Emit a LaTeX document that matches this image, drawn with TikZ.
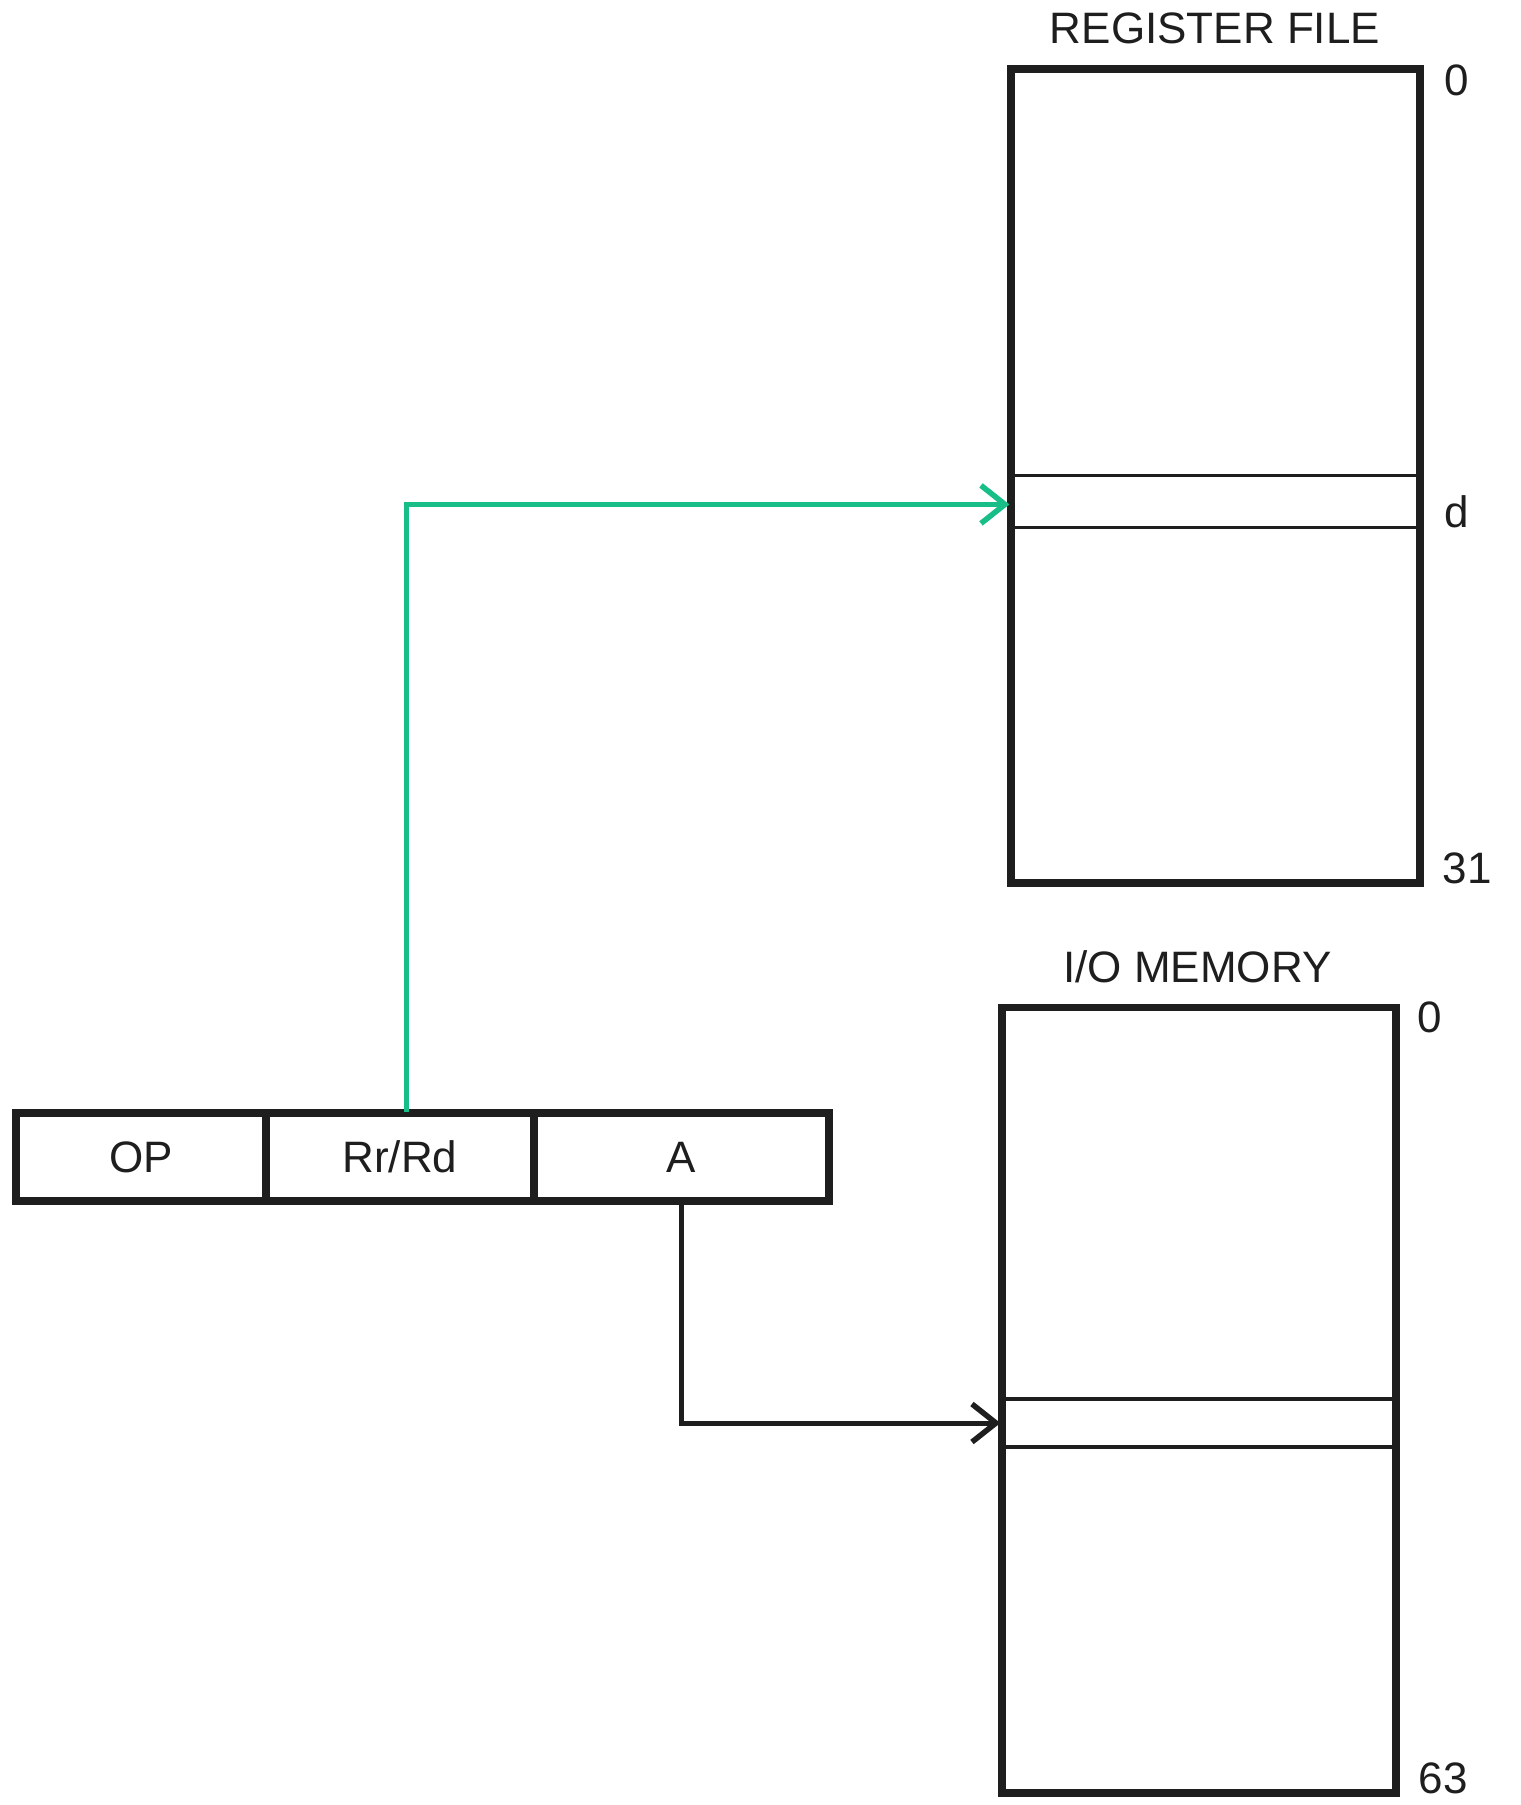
\documentclass[tikz,border=0pt]{standalone}
\usepackage{fontspec}
\setmainfont{Liberation Sans}
\usetikzlibrary{arrows.meta}
\definecolor{arrowgreen}{RGB}{24,190,136}
\definecolor{ink}{RGB}{30,30,30}
\begin{document}
\begin{tikzpicture}[x=1pt,y=1pt,
  lbl/.style={font=\fontsize{44}{50}\selectfont, text=ink, inner sep=0pt},
  membox/.style={draw=ink, line width=7.5pt, inner sep=0pt},
  slotbox/.style={draw=ink, line width=3.2pt, inner sep=0pt},
  cellbox/.style={draw=ink, line width=7.5pt, inner sep=0pt, minimum height=88pt, font=\fontsize{44}{50}\selectfont, text=ink},
  conn/.style={line width=5pt, -{Straight Barb[length=24pt,width=38pt,line width=5.5pt]}}
]
\useasboundingbox (0,0) rectangle (1521,-1805);
% register file
\node[membox, minimum width=409pt, minimum height=814pt] (reg) at (1215.5,-476) {};
\node[slotbox, minimum width=409pt, minimum height=51.8pt] (regslot) at (1215.5,-501.4) {};
\node[lbl, anchor=base] (regt) at (1215,-43.8) {REGISTER FILE};
\node[lbl, anchor=base] (r0) at (1456.5,-95.6) {0};
\node[lbl, anchor=base] (rd) at (1456.5,-527) {d};
\node[lbl, anchor=base] (r31) at (1467,-883) {31};
% I/O memory
\node[membox, minimum width=394pt, minimum height=785.5pt] (io) at (1199,-1400.25) {};
\node[slotbox, minimum width=394pt, minimum height=48pt] (ioslot) at (1199,-1423) {};
\node[lbl, anchor=base] (iot) at (1197.5,-982) {I/O MEMORY};
\node[lbl, anchor=base] (i0) at (1430,-1032) {0};
\node[lbl, anchor=base] (i63) at (1443,-1793) {63};
% instruction
\node[cellbox, minimum width=250pt] (op) at (141,-1157) {OP};
\node[cellbox, minimum width=268pt] (rr) at (400,-1157) {Rr/Rd};
\node[cellbox, minimum width=295pt] (a) at (681.5,-1157) {A};
% connectors
\draw[conn, draw=arrowgreen] ([xshift=6pt,yshift=-3pt]rr.north) |- ([yshift=-3pt]regslot.west);
\draw[conn, draw=ink] ([yshift=3pt]a.south) |- (ioslot.west);
\end{tikzpicture}
\end{document}
